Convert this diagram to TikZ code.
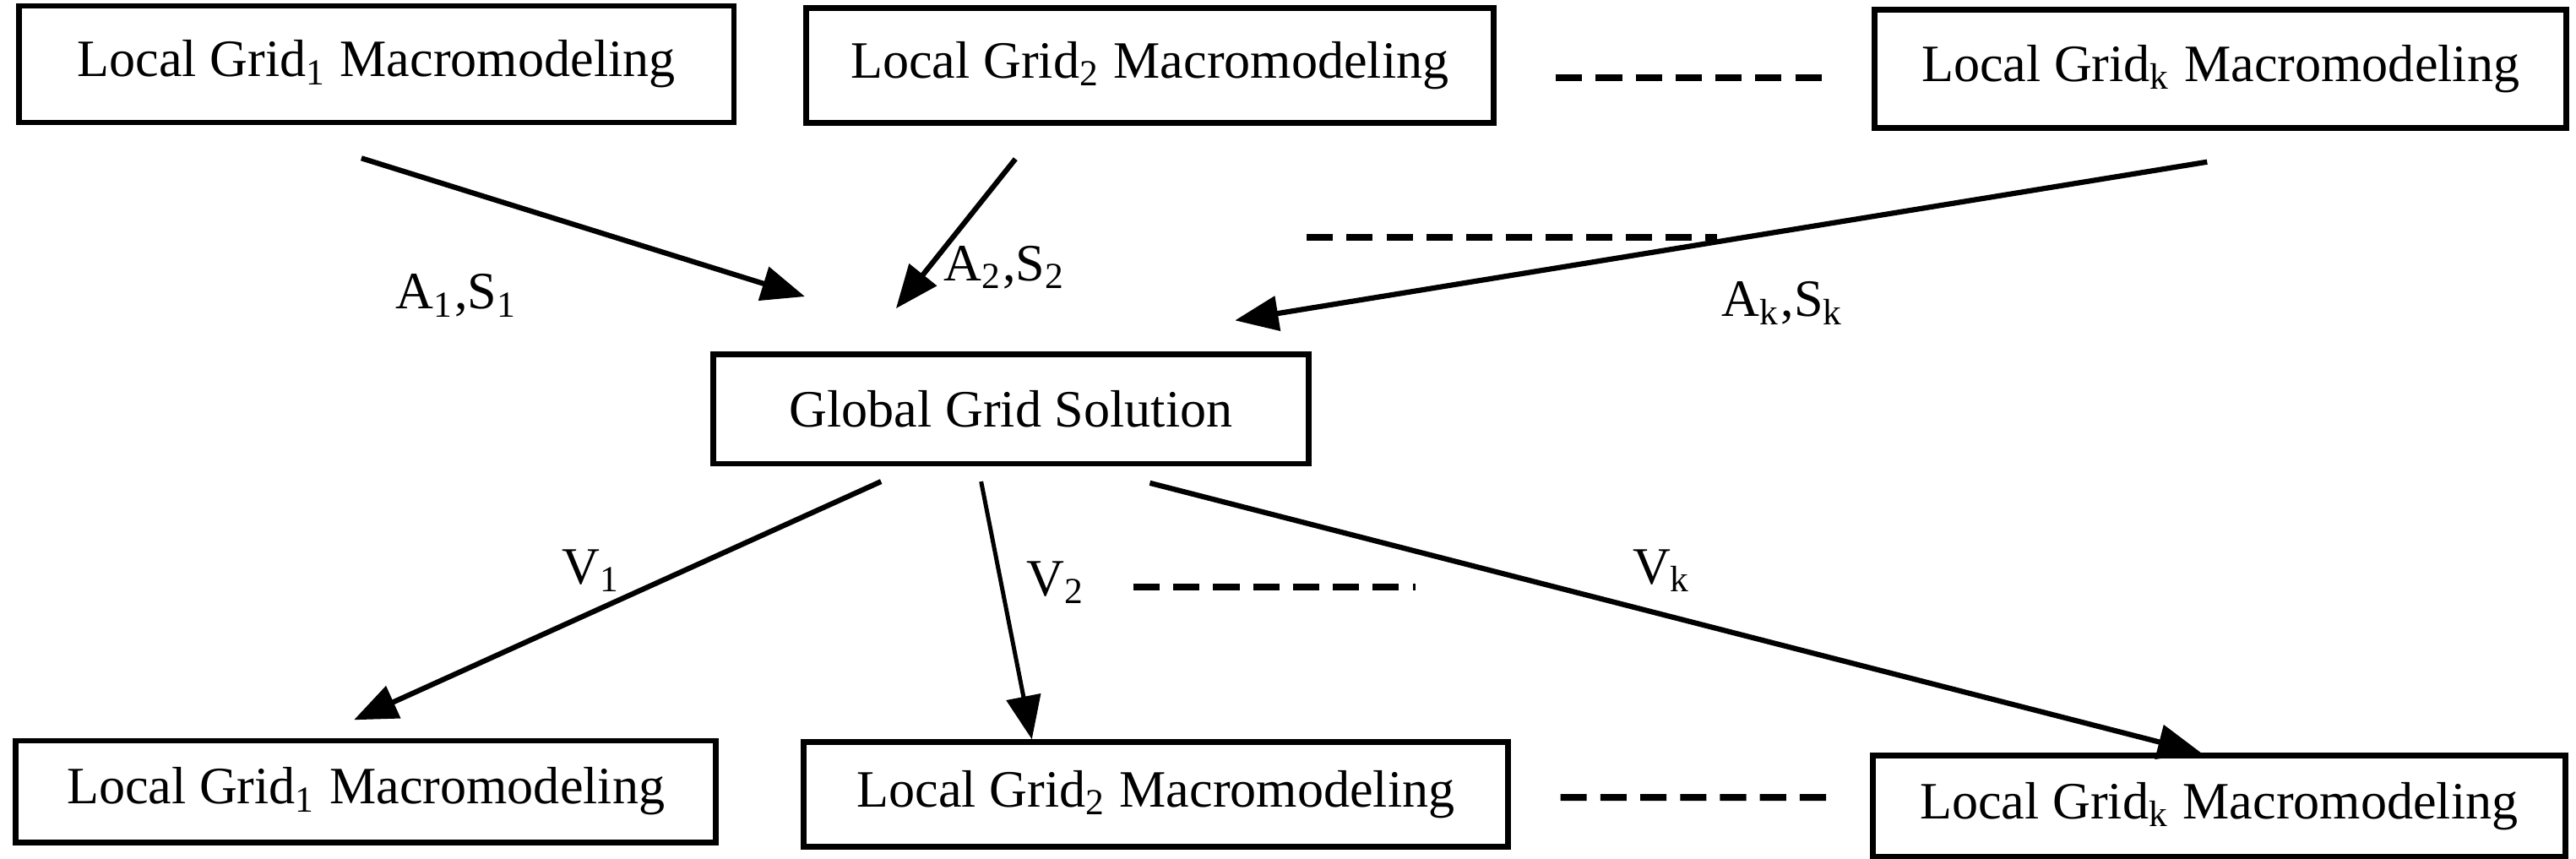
\documentclass[tikz,border=0pt]{standalone}
\usepackage{fontspec}
\setmainfont{Liberation Serif}
\usepackage{tikz}
\usetikzlibrary{arrows.meta}
\tikzset{gridbox/.style={draw, thick, line width=1.1pt, rectangle, fill=white,
minimum width=4.7cm, minimum height=0.75cm, inner sep=2pt},
arrow/.style={draw, line width=1pt, -{Triangle[length=2.9mm, width=2.3mm]}},
dots/.style={draw, line width=1.3pt, dash pattern=on 5pt off 2.6pt},
lbl/.style={inner sep=1pt}}

\begin{document}
\begin{tikzpicture}
    \useasboundingbox (0,0) rectangle (17.25,5.75);

    % Local grid blocks, top row
    \node[gridbox, minimum width=4.79cm, minimum height=0.78cm] (top1) at (2.52, 5.32) {Local Grid\textsubscript{1} Macromodeling};
    \node[gridbox, minimum width=4.60cm, minimum height=0.77cm] (top2) at (7.70, 5.31) {Local Grid\textsubscript{2} Macromodeling};
    \node[gridbox, minimum width=4.63cm, minimum height=0.79cm] (topk) at (14.87, 5.29) {Local Grid\textsubscript{k} Macromodeling};

    % Global grid
    \node[gridbox, minimum width=3.99cm, minimum height=0.73cm] (global) at (6.77, 3.01) {Global Grid Solution};

    % Local grid blocks, bottom row
    \node[gridbox, minimum width=4.69cm, minimum height=0.68cm] (bot1) at (2.45, 0.45) {Local Grid\textsubscript{1} Macromodeling};
    \node[gridbox, minimum width=4.72cm, minimum height=0.70cm] (bot2) at (7.74, 0.43) {Local Grid\textsubscript{2} Macromodeling};
    \node[gridbox, minimum width=4.64cm, minimum height=0.68cm] (botk) at (14.86, 0.35) {Local Grid\textsubscript{k} Macromodeling};

    % Macromodels to the global grid
    \draw[arrow] ([xshift=-0.10cm, yshift=-0.22cm]top1.south) -- ([xshift=-1.38cm, yshift=0.37cm]global.north);
    \draw[arrow] ([xshift=-0.90cm, yshift=-0.22cm]top2.south) -- ([xshift=-0.77cm, yshift=0.29cm]global.north);
    \draw[arrow] ([xshift=-0.09cm, yshift=-0.21cm]topk.south) -- ([xshift=1.50cm, yshift=0.21cm]global.north);

    % Port voltages back to the local grids
    \draw[arrow] ([xshift=-0.87cm, yshift=-0.10cm]global.south) -- ([xshift=-0.08cm, yshift=0.12cm]bot1.north);
    \draw[arrow, line width=0.8pt] ([xshift=-0.20cm, yshift=-0.10cm]global.south) -- ([xshift=-0.83cm]bot2.north);
    \draw[arrow] ([xshift=0.93cm, yshift=-0.11cm]global.south) -- ([xshift=-0.12cm]botk.north);

    % Labels
    \node[lbl] (as1) at (3.06, 3.77) {A\textsubscript{1},S\textsubscript{1}};
    \node[lbl] (as2) at (6.73, 3.96) {A\textsubscript{2},S\textsubscript{2}};
    \node[lbl] (ask) at (11.94, 3.72) {A\textsubscript{k},S\textsubscript{k}};
    \node[lbl] (v1) at (3.96, 1.93) {V\textsubscript{1}};
    \node[lbl] (v2) at (7.07, 1.85) {V\textsubscript{2}};
    \node[lbl] (vk) at (11.13, 1.93) {V\textsubscript{k}};

    % Dashed continuation marks
    \draw[dots] ([xshift=0.40cm, yshift=-0.08cm]top2.east) -- ([xshift=-0.29cm, yshift=-0.06cm]topk.west);
    \draw[dots] (8.75, 4.16) -- (11.50, 4.16);
    \draw[dots] (7.59, 1.82) -- (9.48, 1.82);
    \draw[dots] ([xshift=0.33cm, yshift=-0.02cm]bot2.east) -- ([xshift=-0.22cm, yshift=0.06cm]botk.west);
\end{tikzpicture}
\end{document}
